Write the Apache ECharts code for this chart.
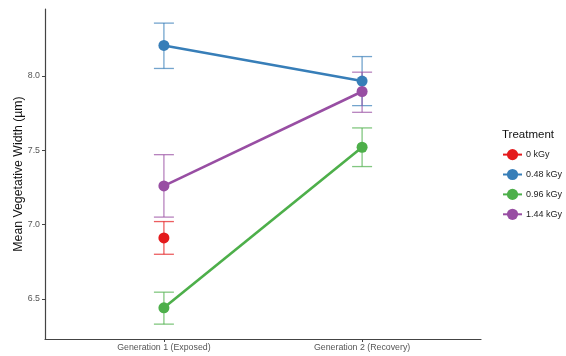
<!DOCTYPE html>
<html>
<head>
<meta charset="utf-8">
<script src="https://cdn.jsdelivr.net/npm/echarts@6/dist/echarts.min.js"></script>
<style>
  html, body { margin: 0; padding: 0; background: #fff; }
  #chart { width: 566px; height: 356px; }
</style>
</head>
<body>
<div id="chart"></div>
<script>
// Generations on the x axis (positions 1 and 2)
const generations = ['Generation 1 (Exposed)', 'Generation 2 (Recovery)'];
const yTicks = [6.5, 7.0, 7.5, 8.0];

const treatments = ['0 kGy', '0.48 kGy', '0.96 kGy', '1.44 kGy'];
const colors = ['#E41A1C', '#377EB8', '#4DAF4A', '#984EA3'];

// Mean vegetative width per generation (null = not measured)
const mean0 = [6.91, null];
const mean048 = [8.205, 7.965];
const mean096 = [6.44, 7.52];
const mean144 = [7.26, 7.895];

// Lower / upper error bar limits
const low0 = [6.80, null];
const high0 = [7.02, null];
const low048 = [8.05, 7.80];
const high048 = [8.355, 8.13];
const low096 = [6.33, 7.39];
const high096 = [6.545, 7.65];
const low144 = [7.05, 7.755];
const high144 = [7.47, 8.025];

const means = [mean0, mean048, mean096, mean144];
const lows = [low0, low048, low096, low144];
const highs = [high0, high048, high096, high144];

const chart = echarts.init(document.getElementById('chart'));

function pairs(arr) {
  return arr.map((v, i) => [i + 1, v]).filter(p => p[1] !== null);
}

function errorSeries(k) {
  const data = [];
  means[k].forEach((m, i) => {
    if (m !== null) data.push([i + 1, lows[k][i], highs[k][i]]);
  });
  return {
    type: 'custom',
    name: treatments[k] + ' SE',
    z: 1,
    silent: true,
    data: data,
    renderItem: function (params, api) {
      const x = api.value(0);
      const lo = api.coord([x, api.value(1)]);
      const hi = api.coord([x, api.value(2)]);
      const hw = 10;
      const style = { stroke: colors[k], lineWidth: 1.3, opacity: 0.7 };
      return {
        type: 'group',
        children: [
          { type: 'line', shape: { x1: lo[0], y1: lo[1], x2: hi[0], y2: hi[1] }, style: style },
          { type: 'line', shape: { x1: lo[0] - hw, y1: lo[1], x2: lo[0] + hw, y2: lo[1] }, style: style },
          { type: 'line', shape: { x1: hi[0] - hw, y1: hi[1], x2: hi[0] + hw, y2: hi[1] }, style: style }
        ]
      };
    }
  };
}

function lineSeries(k) {
  return {
    type: 'line',
    name: treatments[k],
    z: 3,
    data: pairs(means[k]),
    symbol: 'circle',
    symbolSize: 11,
    showSymbol: true,
    itemStyle: { color: colors[k] },
    lineStyle: { color: colors[k], width: 2.6 },
    emphasis: { disabled: true }
  };
}

const series = [];
for (let k = 0; k < 4; k++) series.push(lineSeries(k));
for (let k = 0; k < 4; k++) series.push(errorSeries(k));

chart.setOption({
  animation: false,
  color: colors,
  grid: { left: 45, right: 85, top: 9, bottom: 17, containLabel: false, outerBoundsMode: 'none' },
  xAxis: {
    type: 'value',
    min: 0.4,
    max: 2.6,
    splitLine: { show: false },
    axisLine: { lineStyle: { color: '#444', width: 1.2 } },
    axisTick: { show: true, customValues: [1, 2], length: 3, lineStyle: { color: '#444' } },
    axisLabel: {
      customValues: [1, 2],
      formatter: v => generations[Math.round(v) - 1] || '',
      color: '#555', fontSize: 8.8, fontFamily: 'Liberation Sans, Arial', margin: 4
    }
  },
  yAxis: {
    type: 'value',
    min: 6.23,
    max: 8.45,
    name: 'Mean Vegetative Width (µm)',
    nameLocation: 'middle',
    nameGap: 20,
    nameMoveOverlap: false,
    nameTextStyle: { color: '#111', fontSize: 12.3, fontFamily: 'Liberation Sans, Arial' },
    splitLine: { show: false },
    axisLine: { show: true, lineStyle: { color: '#444', width: 1.2 } },
    axisTick: { show: true, customValues: yTicks, length: 3, lineStyle: { color: '#444' } },
    axisLabel: {
      customValues: yTicks,
      formatter: v => v.toFixed(1),
      color: '#555', fontSize: 8.8, fontFamily: 'Liberation Sans, Arial', margin: 5
    }
  },
  title: {
    text: 'Treatment',
    left: 497, top: 124,
    textStyle: { color: '#111', fontSize: 11.5, fontWeight: 'normal', fontFamily: 'Liberation Sans, Arial' }
  },
  legend: {
    data: treatments,
    orient: 'vertical',
    left: 497, top: 144,
    itemWidth: 19, itemHeight: 14,
    itemGap: 8.7,
    textStyle: { color: '#222', fontSize: 9, fontFamily: 'Liberation Sans, Arial', padding: [0, 0, 0, -1] },
    selectedMode: false
  },
  series: series
});
</script>
</body>
</html>
